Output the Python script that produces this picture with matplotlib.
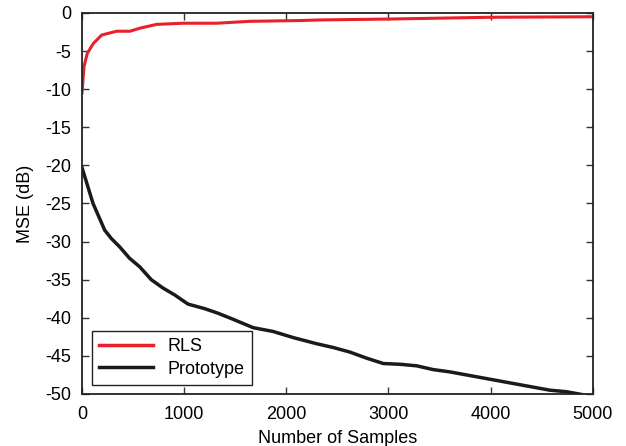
import matplotlib
matplotlib.use("Agg")
import matplotlib.pyplot as plt

plt.rcParams['font.family'] = ['Liberation Sans', 'DejaVu Sans']
plt.rcParams['axes.unicode_minus'] = False

# RLS curve
rlsSamples = [0, 20, 52, 111, 193, 339, 470, 567, 731, 990, 1318, 1644, 2133, 2329, 3014, 3992, 5000]
rlsMse = [-10.5, -7.0, -5.3, -4.0, -2.9, -2.4, -2.4, -2.0, -1.5, -1.35, -1.35, -1.1, -1.0, -0.92, -0.8, -0.57, -0.5]

# Prototype curve
protoSamples = [0, 108, 222, 287, 369, 466, 564, 678, 793, 907, 1037, 1200, 1331, 1461,
                1676, 1872, 2068, 2296, 2459, 2622, 2786, 2949, 3112, 3275, 3438, 3601,
                3764, 3927, 4090, 4253, 4416, 4579, 4742, 4905, 5000]
protoMse = [-20.3, -25.0, -28.5, -29.6, -30.7, -32.2, -33.3, -35.0, -36.1, -37.0, -38.2, -38.8,
            -39.4, -40.1, -41.3, -41.8, -42.6, -43.4, -43.9, -44.5, -45.3, -46.0, -46.1, -46.3,
            -46.8, -47.1, -47.5, -47.9, -48.3, -48.7, -49.1, -49.5, -49.7, -50.1, -50.4]

xTicks = [0, 1000, 2000, 3000, 4000, 5000]
yTicks = [-50, -45, -40, -35, -30, -25, -20, -15, -10, -5, 0]

fig = plt.figure(figsize=(6.26, 4.46), dpi=100)
ax = fig.add_axes([0.131, 0.1166, 0.816, 0.8544])
ax.plot(rlsSamples, rlsMse, color='#e8202a', linewidth=2.2, label="RLS")
ax.plot(protoSamples, protoMse, color='#1a1a1a', linewidth=2.5, label="Prototype")
ax.set_xlim([0, 5000])
ax.set_ylim([-50, 0])
ax.set_xticks(xTicks)
ax.set_yticks(yTicks)
ax.set_xlabel("Number of Samples", fontsize=13, labelpad=5)
ax.set_ylabel("MSE (dB)", fontsize=13, labelpad=8)
ax.tick_params(axis='both', which='major', labelsize=13, direction='in',
               top=True, right=True, length=5, width=1, color='#333333')
ax.tick_params(axis='x', pad=9)
ax.tick_params(axis='y', pad=8)
for s in ax.spines.values():
    s.set_linewidth(1.3)
    s.set_color('#222222')
leg = ax.legend(loc='lower left', bbox_to_anchor=(0.0196, 0.024), borderaxespad=0,
                fontsize=13, handlelength=3.0, fancybox=False, framealpha=1,
                borderpad=0.4, labelspacing=0.3)
leg.get_frame().set_edgecolor('#222222')
leg.get_frame().set_linewidth(1.0)
for ln in leg.get_lines():
    ln.set_linewidth(2.5)

fig.savefig("out.png", dpi=100)
plt.close(fig)
